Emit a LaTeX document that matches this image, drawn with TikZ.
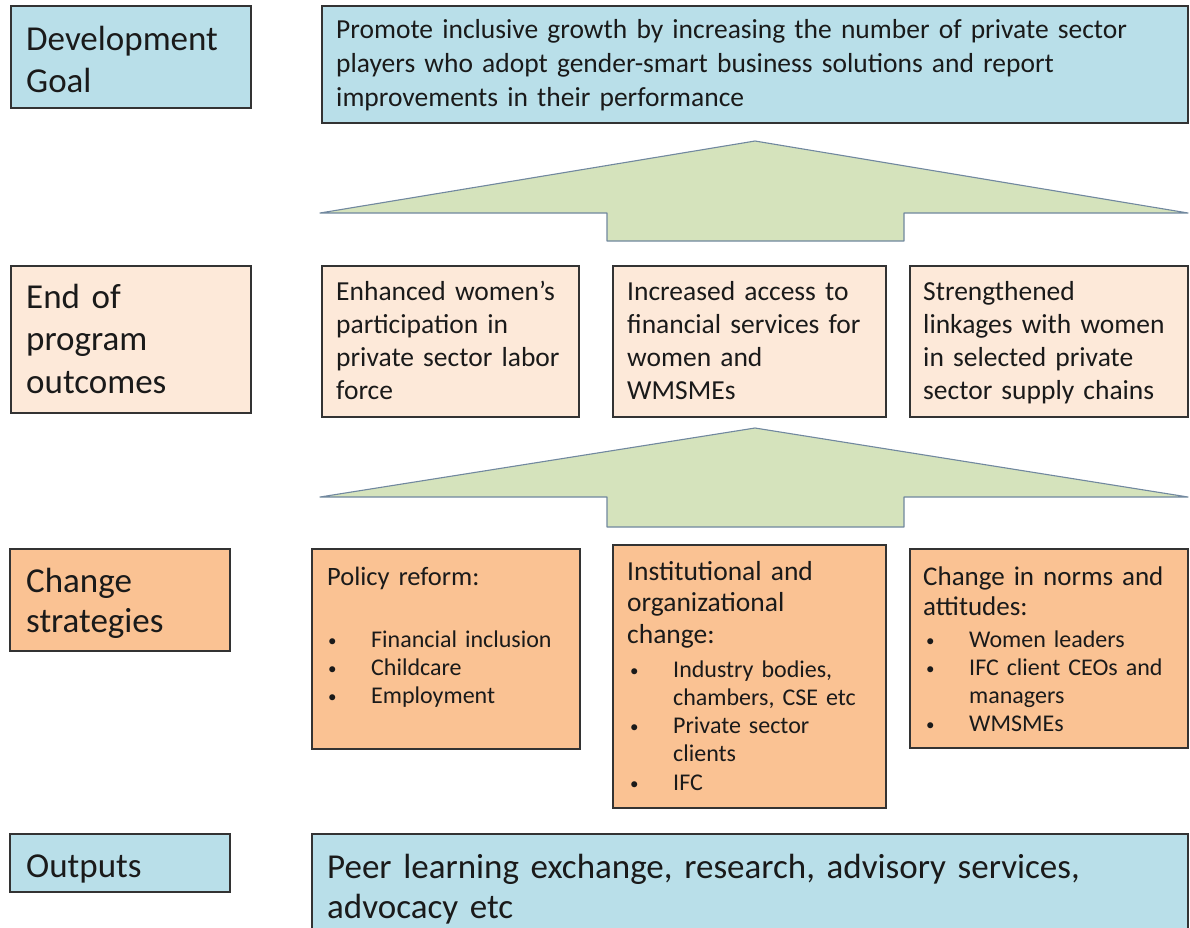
\documentclass[tikz,border=0pt]{standalone}
\usepackage{fontspec}
\setmainfont{Carlito}
\usetikzlibrary{shadows}
\definecolor{boxblue}{HTML}{B9DFE9}
\definecolor{boxpeach}{HTML}{FDE9D9}
\definecolor{boxorange}{HTML}{FAC293}
\definecolor{arrowgreen}{HTML}{D5E3BC}
\definecolor{arrowline}{HTML}{71889F}
\definecolor{edgegray}{HTML}{333333}
\definecolor{ink}{HTML}{1A1A1A}
\newcommand{\bitem}[1]{\makebox[43pt][l]{\raisebox{1pt}{\fontsize{17}{17}\selectfont\textbullet}}#1}
\newcommand{\bcont}{\hspace*{43pt}}
\begin{document}
\begin{tikzpicture}[x=1pt,y=-1pt,
  box/.style={draw=edgegray, line width=1.6pt, rectangle, anchor=north west, inner sep=0pt,
    drop shadow={shadow xshift=1.5pt, shadow yshift=-1.5pt, opacity=0.25, fill=black}},
  txt/.style={anchor=base west, inner sep=0pt, align=left, text=ink},
  lab/.style={txt, font=\fontsize{35}{42}\selectfont},
  body/.style={txt, font=\fontsize{27.5}{33}\selectfont},
  blist/.style={txt, font=\fontsize{24}{28.3}\selectfont},
  blockarrow/.style={fill=arrowgreen, draw=arrowline, line width=1.1pt, line join=round}]
\useasboundingbox (0,0) rectangle (1190,927);
\fill[white] (0,0) rectangle (1190,927);

% block arrows
\coordinate (a1l) at (320,213);
\coordinate (a1t) at (755,141);
\coordinate (a1r) at (1188,213);
\draw[blockarrow] (a1l) -- (a1t) -- (a1r) -- (904,213) -- (904,241) -- (607,241) -- (607,213) -- cycle;
\coordinate (a2l) at (320,497);
\coordinate (a2t) at (755,428);
\coordinate (a2r) at (1188,497);
\draw[blockarrow] (a2l) -- (a2t) -- (a2r) -- (904,497) -- (904,527) -- (607,527) -- (607,497) -- cycle;

% row 1
\node[box, fill=boxblue, minimum width=240, minimum height=102] (dg) at (10,5) {};
\node[box, fill=boxblue, minimum width=866, minimum height=117] (goal) at (321,5) {};
\node[lab, text width=220] (dgt) at (26,50) {Development\\Goal};
\node[body, text width=840, font=\fontsize{27.5}{34}\selectfont] (goalt) at (336,38) {Promote inclusive growth by increasing the number of private sector\\players who adopt gender-smart business solutions and report\\improvements in their performance};

% row 2
\node[box, fill=boxpeach, minimum width=240, minimum height=147] (eop) at (10,265) {};
\node[box, fill=boxpeach, minimum width=257, minimum height=151] (o1) at (321,265) {};
\node[box, fill=boxpeach, minimum width=273, minimum height=151] (o2) at (612,265) {};
\node[box, fill=boxpeach, minimum width=278, minimum height=151] (o3) at (909,265) {};
\node[lab, text width=220, font=\fontsize{35}{42.5}\selectfont] (eopt) at (26,308) {End of\\program\\outcomes};
\node[body, text width=250] (o1t) at (336,300) {Enhanced women’s\\participation in\\private sector labor\\force};
\node[body, text width=250] (o2t) at (627,300) {Increased access to\\financial services for\\women and\\WMSMEs};
\node[body, text width=260] (o3t) at (923,300) {Strengthened\\linkages with women\\in selected private\\sector supply chains};

% row 3
\node[box, fill=boxorange, minimum width=220, minimum height=102] (cs) at (9,548) {};
\node[box, fill=boxorange, minimum width=268, minimum height=200] (s1) at (311,548) {};
\node[box, fill=boxorange, minimum width=273, minimum height=263] (s2) at (612,544) {};
\node[box, fill=boxorange, minimum width=278, minimum height=199] (s3) at (909,548) {};
\node[lab, text width=210, font=\fontsize{35}{40}\selectfont] (cst) at (26,592) {Change\\strategies};
\node[body, text width=250, font=\fontsize{26.5}{31}\selectfont] (s1h) at (327,585) {Policy reform:};
\node[blist, text width=250] (s1b) at (328,647) {\bitem{Financial inclusion}\\\bitem{Childcare}\\\bitem{Employment}};
\node[body, text width=260, font=\fontsize{27.5}{31.5}\selectfont] (s2h) at (627,580) {Institutional and\\organizational\\change:};
\node[blist, text width=260] (s2b) at (630,677) {\bitem{Industry bodies,}\\\bcont chambers, CSE etc\\\bitem{Private sector}\\\bcont clients\\\bitem{IFC}};
\node[body, text width=270, font=\fontsize{27}{30}\selectfont] (s3h) at (923,585) {Change in norms and\\attitudes:};
\node[blist, text width=260] (s3b) at (926,647) {\bitem{Women leaders}\\\bitem{IFC client CEOs and}\\\bcont managers\\\bitem{WMSMEs}};

% row 4
\node[box, fill=boxblue, minimum width=220, minimum height=58] (out) at (9,833) {};
\node[box, fill=boxblue, minimum width=876, minimum height=110] (peer) at (311,833) {};
\node[lab] (outt) at (26,877) {Outputs};
\node[lab, text width=860, font=\fontsize{35}{40}\selectfont] (peert) at (327,878) {Peer learning exchange, research, advisory services,\\advocacy etc};
\end{tikzpicture}
\end{document}
